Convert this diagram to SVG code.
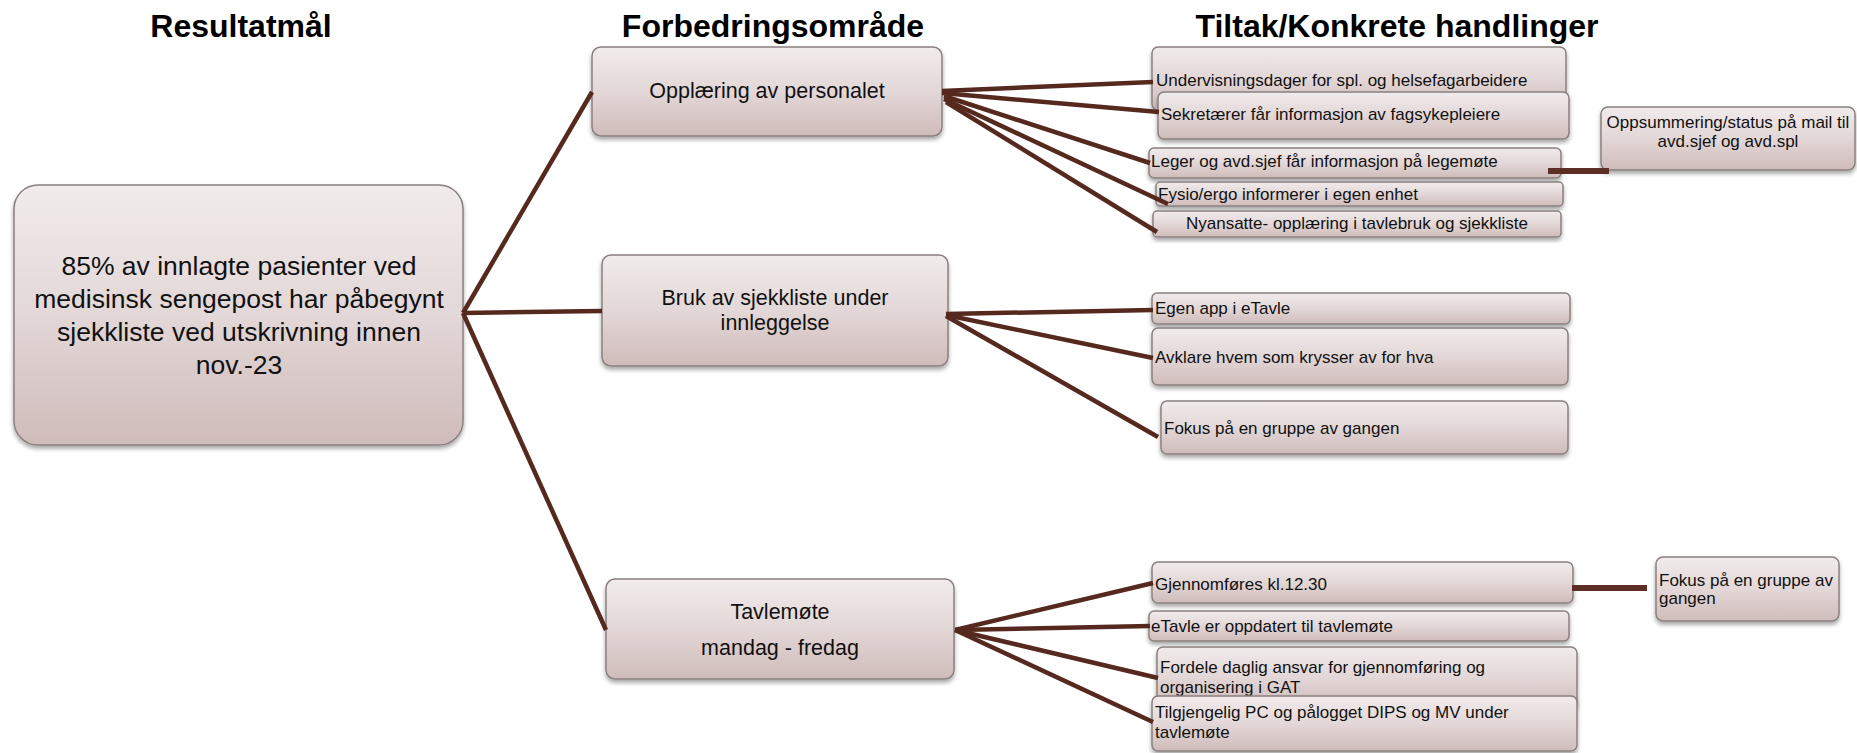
<svg xmlns="http://www.w3.org/2000/svg" width="1857" height="753" viewBox="0 0 1857 753">
<style>
  .title { font-family: "Liberation Sans", Arial, sans-serif; font-weight: bold; font-size: 32px; fill: #000; text-anchor: middle; }
  .box { fill: url(#boxGrad); stroke: #8a8080; stroke-width: 1.5; filter: url(#shadow); }
  .root { font-family: "Liberation Sans", Arial, sans-serif; font-size: 26.5px; fill: #111; text-anchor: middle; }
  .mid { font-family: "Liberation Sans", Arial, sans-serif; font-size: 21.5px; fill: #111; text-anchor: middle; }
  .small { font-family: "Liberation Sans", Arial, sans-serif; font-size: 17px; fill: #111; }
  .smallc { font-family: "Liberation Sans", Arial, sans-serif; font-size: 17px; fill: #111; text-anchor: middle; }
  .conn { stroke: #56291f; stroke-width: 4.5; fill: none; stroke-linecap: butt; }
  .connT { stroke: #5c2e26; stroke-width: 6; fill: none; }
</style>
<defs>
  <linearGradient id="boxGrad" x1="0" y1="0" x2="0" y2="1">
    <stop offset="0" stop-color="#f1ebec"/>
    <stop offset="0.5" stop-color="#e3d7d7"/>
    <stop offset="1" stop-color="#cfbcba"/>
  </linearGradient>
  <filter id="shadow" x="-5%" y="-10%" width="110%" height="130%">
    <feDropShadow dx="0" dy="3" stdDeviation="2" flood-color="#000" flood-opacity="0.35"/>
  </filter>
</defs>
<rect x="0" y="0" width="1857" height="753" fill="#ffffff"/>

<g id="titles">
  <text class="title" x="241" y="37">Resultatmål</text>
  <text class="title" x="773" y="37">Forbedringsområde</text>
  <text class="title" x="1397" y="37">Tiltak/Konkrete handlinger</text>
</g>

<g id="node-root">
  <rect class="box" x="14" y="185" width="449" height="260" rx="24"/>
  <text class="root" x="239" y="275">85% av innlagte pasienter ved</text>
  <text class="root" x="239" y="308">medisinsk sengepost har påbegynt</text>
  <text class="root" x="239" y="341">sjekkliste ved utskrivning innen</text>
  <text class="root" x="239" y="374">nov.-23</text>
</g>

<g id="node-opplaering">
  <rect class="box" x="592" y="47" width="350" height="89" rx="9"/>
  <text class="mid" x="767" y="98">Opplæring av personalet</text>
</g>
<g id="node-bruk">
  <rect class="box" x="602" y="255" width="346" height="111" rx="9"/>
  <text class="mid" x="775" y="305">Bruk av sjekkliste under</text>
  <text class="mid" x="775" y="330">innleggelse</text>
</g>
<g id="node-tavlemote">
  <rect class="box" x="606" y="579" width="348" height="100" rx="9"/>
  <text class="mid" x="780" y="619">Tavlemøte</text>
  <text class="mid" x="780" y="655">mandag - fredag</text>
</g>

<g id="node-undervisning">
  <rect class="box" x="1152" y="47" width="414" height="63" rx="6"/>
  <text class="small" x="1156" y="86">Undervisningsdager for spl. og helsefagarbeidere</text>
</g>
<g id="node-sekretaerer">
  <rect class="box" x="1158" y="92" width="411" height="47" rx="6"/>
  <text class="small" x="1161" y="120">Sekretærer får informasjon av fagsykepleiere</text>
</g>
<g id="node-leger">
  <rect class="box" x="1149" y="148" width="412" height="30" rx="5"/>
  <text class="small" x="1151" y="167">Leger og avd.sjef får informasjon på legemøte</text>
</g>
<g id="node-fysio">
  <rect class="box" x="1156" y="182" width="407" height="24" rx="4"/>
  <text class="small" x="1158" y="200">Fysio/ergo informerer i egen enhet</text>
</g>
<g id="node-nyansatte">
  <rect class="box" x="1153" y="211" width="408" height="26" rx="4"/>
  <text class="smallc" x="1357" y="229">Nyansatte- opplæring i tavlebruk og sjekkliste</text>
</g>
<g id="node-oppsummering">
  <rect class="box" x="1601" y="107" width="254" height="63" rx="7"/>
  <text class="smallc" x="1728" y="128">Oppsummering/status på mail til</text>
  <text class="smallc" x="1728" y="147">avd.sjef og avd.spl</text>
</g>

<g id="node-egenapp">
  <rect class="box" x="1152" y="293" width="418" height="31" rx="5"/>
  <text class="small" x="1155" y="314">Egen app i eTavle</text>
</g>
<g id="node-avklare">
  <rect class="box" x="1152" y="328" width="416" height="57" rx="6"/>
  <text class="small" x="1155" y="363">Avklare hvem som krysser av for hva</text>
</g>
<g id="node-fokus1">
  <rect class="box" x="1161" y="401" width="407" height="53" rx="6"/>
  <text class="small" x="1164" y="434">Fokus på en gruppe av gangen</text>
</g>

<g id="node-gjennomfores">
  <rect class="box" x="1152" y="562" width="421" height="41" rx="6"/>
  <text class="small" x="1155" y="590">Gjennomføres kl.12.30</text>
</g>
<g id="node-etavle">
  <rect class="box" x="1149" y="611" width="420" height="30" rx="5"/>
  <text class="small" x="1151" y="632">eTavle er oppdatert til tavlemøte</text>
</g>
<g id="node-fordele">
  <rect class="box" x="1157" y="647" width="420" height="60" rx="6"/>
  <text class="small" x="1160" y="673">Fordele daglig ansvar for gjennomføring og</text>
  <text class="small" x="1160" y="693">organisering i GAT</text>
</g>
<g id="node-tilgjengelig">
  <rect class="box" x="1152" y="696" width="425" height="55" rx="6"/>
  <text class="small" x="1155" y="718">Tilgjengelig PC og pålogget DIPS og MV under</text>
  <text class="small" x="1155" y="738">tavlemøte</text>
</g>
<g id="node-fokus2">
  <rect class="box" x="1656" y="557" width="183" height="64" rx="7"/>
  <text class="small" x="1659" y="586">Fokus på en gruppe av</text>
  <text class="small" x="1659" y="604">gangen</text>
</g>

<g id="connectors">
  <line class="conn" x1="463" y1="313" x2="592" y2="92"/>
  <line class="conn" x1="463" y1="313" x2="602" y2="311"/>
  <line class="conn" x1="463" y1="313" x2="606" y2="630"/>

  <line class="conn" x1="942" y1="91" x2="1153" y2="82"/>
  <line class="conn" x1="942" y1="93" x2="1159" y2="112"/>
  <line class="conn" x1="944" y1="96" x2="1150" y2="163"/>
  <line class="conn" x1="944" y1="99" x2="1168" y2="204"/>
  <line class="conn" x1="946" y1="102" x2="1157" y2="232"/>

  <line class="conn" x1="946" y1="314" x2="1153" y2="310"/>
  <line class="conn" x1="946" y1="315" x2="1153" y2="358"/>
  <line class="conn" x1="946" y1="316" x2="1158" y2="437"/>

  <line class="conn" x1="955" y1="630" x2="1153" y2="583"/>
  <line class="conn" x1="955" y1="630" x2="1150" y2="626"/>
  <line class="conn" x1="955" y1="630" x2="1158" y2="678"/>
  <line class="conn" x1="955" y1="630" x2="1153" y2="722"/>

  <line class="connT" x1="1548" y1="171" x2="1609" y2="171"/>
  <line class="connT" x1="1572" y1="588" x2="1647" y2="588"/>
</g>
</svg>
